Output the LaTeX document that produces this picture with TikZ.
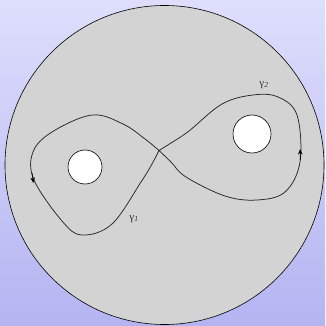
\documentclass[tikz,border=0pt]{standalone}
\usepackage{fontspec}
\setmainfont{Liberation Serif}
\usetikzlibrary{arrows.meta}
\definecolor{bgtop}{RGB}{222,222,252}
\definecolor{bgbot}{RGB}{180,180,242}
\definecolor{disk}{RGB}{211,211,211}
\tikzset{
  curve/.style={line width=0.75pt, black!85, line join=round},
  tip/.style={-{Stealth[length=5.5pt,width=4.5pt]}, line width=0.75pt},
  lab/.style={font=\fontsize{11}{12}\selectfont, inner sep=0pt, text=black!80}
}
\begin{document}
\begin{tikzpicture}[x=1pt,y=-1pt]
\shade[top color=bgtop, bottom color=bgbot] (0,0) rectangle (325,326);
\useasboundingbox (0,0) rectangle (325,326);
\draw[fill=disk, line width=0.6pt] (164.5,165) circle (159.5);
\draw[fill=white, line width=0.6pt] (85,167) circle (17);
\draw[fill=white, line width=0.6pt] (252,134) circle (19);
\coordinate (C) at (159,150.5);
% gamma 1 (left loop)
\draw[curve] plot[smooth, tension=0.6] coordinates {
 (159,150.5) (152,164) (141,182) (112,224) (82,235) (62,221) (34,180)
 (33,152) (52,132) (92,115) (123,124) (145,139) (159,150.5)};
% gamma 2 (right loop)
\draw[curve] plot[smooth, tension=0.6] coordinates {
 (159,150.5) (171,143) (189,131) (222,104) (253,95) (278,97) (297,115)
 (300,162) (285,192) (257,200) (225,196) (186,177) (171,162) (159,150.5)};
\draw[tip] (32,173) -- (33.4,183);
\draw[tip] (300.3,160) -- (300.2,149);
\node[lab] (g1) at (134,219) {γ\textsubscript{\textit{1}}};
\node[lab] (g2) at (264,85) {γ\textsubscript{\textit{2}}};
\end{tikzpicture}
\end{document}
